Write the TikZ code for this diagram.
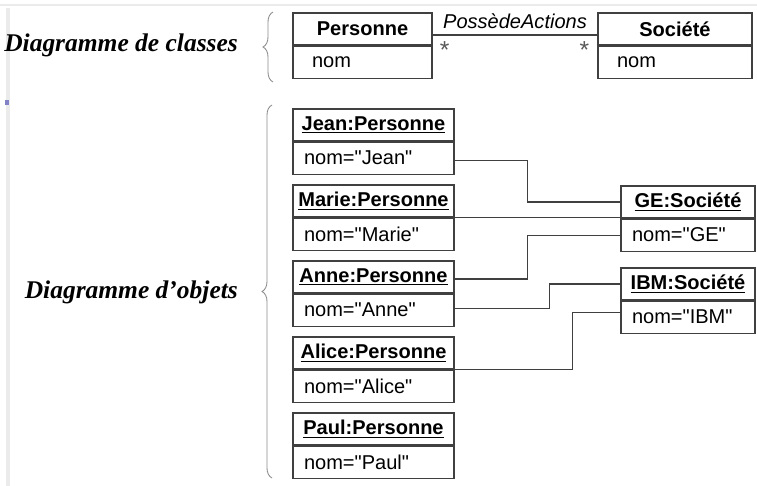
\documentclass[tikz,border=0pt]{standalone}
\usepackage{fontspec}
\setmainfont{Liberation Sans}
\newfontfamily\titrefont{Liberation Serif}
\usetikzlibrary{positioning,decorations.pathreplacing}
\newcommand\qt{\textquotedbl}
\tikzset{
  hdr/.style = {draw=black!75, line width=0.6pt, minimum height=0.64cm,
    inner sep=0pt, font=\fontsize{11.4}{13}\selectfont\bfseries},
  att/.style = {draw=black!75, line width=0.6pt, minimum height=0.64cm,
    inner ysep=0pt, align=left, font=\fontsize{11.4}{13}\selectfont},
  objatt/.style = {att, inner xsep=0.22cm},% attribut d'objet
  clsatt/.style = {att, inner xsep=0.38cm},% attribut de classe
  lien/.style = {draw=black!75, line width=0.6pt},
  mult/.style = {inner sep=1pt, text=black!65, font=\fontsize{14}{14}\selectfont},
  accolade/.style = {draw=black!45, line width=0.5pt, decorate,
    decoration={brace, amplitude=#1}},
  titre/.style = {anchor=east,
    font=\titrefont\fontsize{14.5}{16}\selectfont\bfseries\itshape}
}

\begin{document}
\begin{tikzpicture}[x=0.02cm, y=-0.02cm]
\useasboundingbox (0,0) rectangle (757,486);
% bords de la capture
\draw[black!8, line width=1pt] (0,5) -- (757,5);
\draw[black!8, line width=2pt] (8,8) -- (8,486);
\fill[blue!40!gray!70] (5,100) rectangle (9,105);

% diagramme de classes
\node[titre] (tclasses) at (244,45) {Diagramme de classes};
\draw[accolade=0.2cm] (273,82) -- (273,12);
\node[hdr, minimum width=2.78cm] (personne) at (362.5,29) {Personne};
\node[clsatt, text width=2.02cm, below=0pt of personne] (personne-a) {nom};
\node[hdr, minimum width=3.08cm] (societe) at (675,29) {Société};
\node[clsatt, text width=2.32cm, below=0pt of societe] (societe-a) {nom};
\draw[lien] ([yshift=-0.12cm]personne.east)
  -- node[above, font=\fontsize{11.4}{13}\selectfont\itshape] {PossèdeActions}
     node[mult, pos=0, below right, xshift=0.1cm, yshift=-0.08cm] {*}
     node[mult, pos=1, below left, xshift=-0.12cm, yshift=-0.08cm] {*}
  ([yshift=-0.12cm]societe.west);

% diagramme d'objets
\node[titre] (tobjets) at (244,292) {Diagramme d’objets};
\draw[accolade=0.2cm] (272,478) -- (272,105);

\node[hdr, minimum width=3.22cm] (jean) at (373.5,125) {\underline{Jean:Personne}};
\node[objatt, text width=2.78cm, below=0pt of jean] (jean-a) {nom=\qt Jean\qt};
\node[hdr, minimum width=3.22cm] (marie) at (373.5,201) {\underline{Marie:Personne}};
\node[objatt, text width=2.78cm, below=0pt of marie] (marie-a) {nom=\qt Marie\qt};
\node[hdr, minimum width=3.22cm] (anne) at (373.5,277) {\underline{Anne:Personne}};
\node[objatt, text width=2.78cm, below=0pt of anne] (anne-a) {nom=\qt Anne\qt};
\node[hdr, minimum width=3.22cm] (alice) at (373.5,353) {\underline{Alice:Personne}};
\node[objatt, text width=2.78cm, below=0pt of alice] (alice-a) {nom=\qt Alice\qt};
\node[hdr, minimum width=3.22cm] (paul) at (373.5,429) {\underline{Paul:Personne}};
\node[objatt, text width=2.78cm, below=0pt of paul] (paul-a) {nom=\qt Paul\qt};

\node[hdr, minimum width=2.68cm] (ge) at (688,202) {\underline{GE:Société}};
\node[objatt, text width=2.24cm, below=0pt of ge] (ge-a) {nom=\qt GE\qt};
\node[hdr, minimum width=2.68cm] (ibm) at (688,284) {\underline{IBM:Société}};
\node[objatt, text width=2.24cm, below=0pt of ibm] (ibm-a) {nom=\qt IBM\qt};

% liens
\draw[lien] ([yshift=-0.04cm]jean-a.east) -- ++(73,0) |- (ge.west);
\draw[lien] (marie.south east) -- (marie.south east -| ge.west);
\draw[lien] ([yshift=-0.04cm]anne.east) -- ++(73,0) |- (ge-a.west);
\draw[lien] ([yshift=0.04cm]anne-a.east) -- ++(95,0) |- (ibm.west);
\draw[lien] (alice.south east) -- ++(118,0) |- ([yshift=0.1cm]ibm-a.west);
\end{tikzpicture}
\end{document}
